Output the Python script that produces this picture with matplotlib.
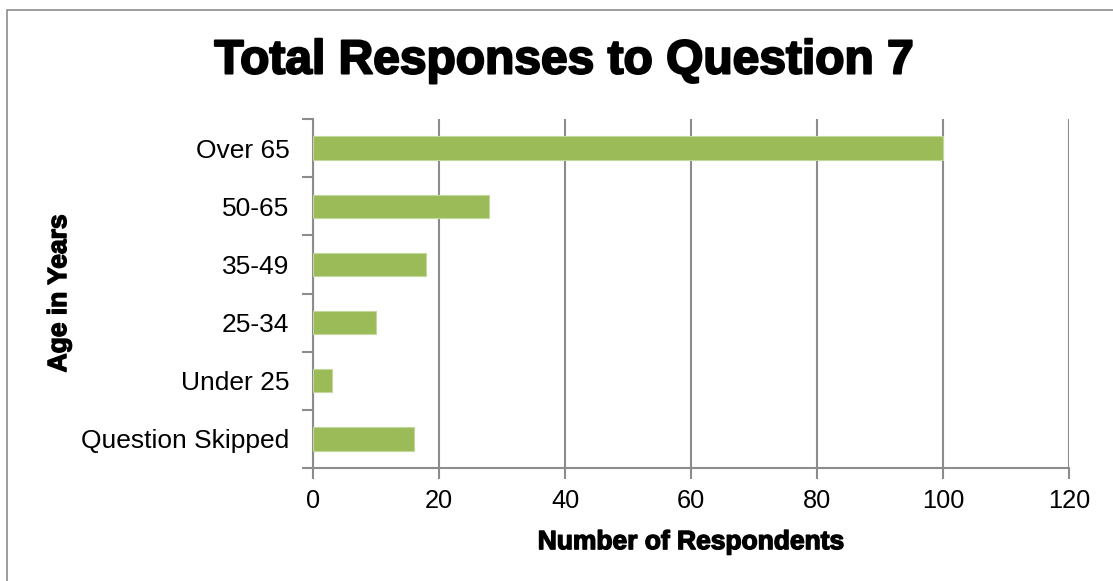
import matplotlib
matplotlib.use("Agg")
import matplotlib.pyplot as plt
import matplotlib.patheffects as pe
from matplotlib.patches import Rectangle

categories = ["Question Skipped", "Under 25", "25-34", "35-49", "50-65", "Over 65"]
respondents = [16, 3, 10, 18, 28, 100]
x_ticks = [0, 20, 40, 60, 80, 100, 120]

title = "Total Responses to Question 7"
x_label = "Number of Respondents"
y_label = "Age in Years"

bar_color = "#9BBB59"
grid_color = "#8C8C8C"

plt.rcParams["font.family"] = ["Liberation Sans", "DejaVu Sans"]

fig = plt.figure(figsize=(11.13, 5.81), dpi=100)
ax = fig.add_axes([313 / 1113, 1 - 468 / 581, (1069 - 313) / 1113, (468 - 119) / 581])

ypos = list(range(len(categories)))
ax.barh(ypos, respondents, height=0.4, color=bar_color, edgecolor="#C3D69B",
        linewidth=0.8, zorder=3)

ax.set_xlim(0, 120)
ax.set_ylim(-0.5, len(categories) - 0.5)
ax.set_xticks(x_ticks)
ax.set_xticklabels([str(v) for v in x_ticks], fontsize=18.3)
ax.set_yticks(ypos)
ax.set_yticklabels(categories, fontsize=19)
ax.set_yticks([i - 0.5 for i in range(len(categories) + 1)], minor=True)
ax.tick_params(axis="y", which="major", length=0, pad=17)
ax.tick_params(axis="y", which="minor", length=8, width=1.5, color=grid_color, direction="out")
ax.tick_params(axis="x", which="major", length=8, width=1.5, color=grid_color, direction="out", pad=7)

ax.grid(axis="x", color=grid_color, linewidth=1.5, zorder=0)
for side in ("top", "right"):
    ax.spines[side].set_visible(False)
for side in ("left", "bottom"):
    ax.spines[side].set_color(grid_color)
    ax.spines[side].set_linewidth(1.5)

heavy = [pe.withStroke(linewidth=1.0, foreground="black")]
heavy_title = [pe.withStroke(linewidth=1.5, foreground="black")]

ax.set_xlabel(x_label, fontsize=19, fontweight="bold", path_effects=heavy)
ax.xaxis.set_label_coords(0.5, -0.178)
ax.set_ylabel(y_label, fontsize=19, fontweight="bold", path_effects=heavy)
ax.yaxis.set_label_coords(-0.32, 0.5)

fig.text(564 / 1113, 1 - 61 / 581, title, fontsize=34.5, fontweight="bold",
         ha="center", va="center", path_effects=heavy_title)

# chart-area border
fig.patches.append(Rectangle((7 / 1113, -0.05), 1.2, 1 - 10 / 581 + 0.05,
                             transform=fig.transFigure, fill=False,
                             edgecolor="#8C8C8C", linewidth=1.2))

fig.savefig("out.png", dpi=100)
